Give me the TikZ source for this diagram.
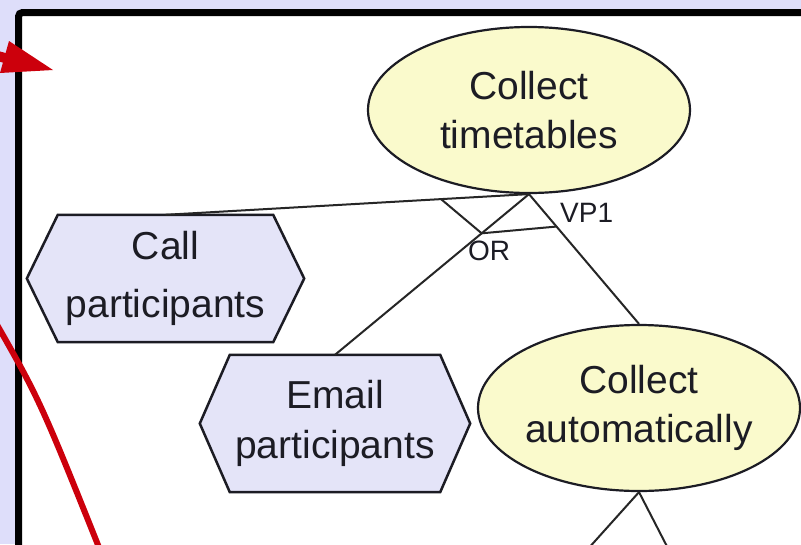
\documentclass[tikz,border=0pt]{standalone}
\usepackage{fontspec}
\setmainfont{Liberation Sans}
\usetikzlibrary{shapes.geometric}
\definecolor{pagebg}{RGB}{222,222,250}
\definecolor{goalfill}{RGB}{250,250,204}
\definecolor{taskfill}{RGB}{228,228,248}
\definecolor{inkdark}{RGB}{28,28,36}
\definecolor{markred}{RGB}{204,0,12}
\pgfdeclarelayer{back}
\pgfdeclarelayer{shapes}
\pgfsetlayers{back,shapes,main}
\begin{document}
\begin{tikzpicture}[x=1pt,y=-1pt,
  goal/.style={ellipse, draw=inkdark, fill=goalfill, line width=2.2pt,
    minimum width=322pt, minimum height=166pt, inner sep=0pt,
    align=center, text=inkdark, font=\fontsize{39}{49}\selectfont},
  task/.style={rectangle, inner sep=0pt, align=center, text=inkdark,
    font=\fontsize{39}{50}\selectfont},
  hexline/.style={draw=inkdark, fill=taskfill, line width=2.5pt, line join=miter},
  link/.style={draw=black!85, line width=2pt},
  lbl/.style={inner sep=0pt, text=inkdark, font=\fontsize{28}{30}\selectfont},
  redmark/.style={draw=markred, line width=6pt}]
\useasboundingbox (0,0) rectangle (801,544);
\clip (0,0) rectangle (801,544);

% page background and framed canvas
\begin{pgfonlayer}{back}
  \fill[pagebg] (0,0) rectangle (801,544);
  \draw[line width=7pt, fill=white, rounded corners=4pt] (18.5,12.5) rectangle (840,590);
\end{pgfonlayer}

% goals
\node[goal] (ct) at (529,110) {Collect\\timetables};
\node[goal] (ca) at (639,408) {Collect\\automatically};

% tasks (hexagons drawn round the text boxes)
\node[task, minimum width=215pt, minimum height=127pt, font=\fontsize{39}{58}\selectfont]
  (cp) at (165.5,278.5) {Call\\participants};
\node[task, minimum width=210pt, minimum height=137pt]
  (ep) at (335,423.5) {Email\\participants};
\begin{pgfonlayer}{shapes}
  \path[hexline] (cp.north west) -- (cp.north east) -- ([xshift=31pt]cp.east)
    -- (cp.south east) -- (cp.south west) -- ([xshift=-31pt]cp.west) -- cycle;
  \path[hexline] (ep.north west) -- (ep.north east) -- ([xshift=30pt]ep.east)
    -- (ep.south east) -- (ep.south west) -- ([xshift=-30pt]ep.west) -- cycle;
\end{pgfonlayer}

% decomposition links
\draw[link] (ct.south) -- coordinate[pos=0.242] (orA) (cp.north);
\draw[link] (ct.south) -- coordinate[pos=0.244] (orB) (ep.north);
\draw[link] (ct.south) -- coordinate[pos=0.25] (orC) (ca.north);
\draw[link] (orA) -- (orB) -- (orC);
\node[lbl, anchor=base west] (vp) at (560,222) {VP1};
\node[lbl] (orl) at (489,251) {OR};

% links leaving the lower goal
\coordinate (lowL) at (578,560);
\coordinate (lowR) at (674,560);
\draw[link] (ca.south) -- (lowL);
\draw[link] (ca.south) -- (lowR);

% red pointer and red curve
\draw[markred, line width=10pt] (-40,46) -- (20,62);
\fill[markred] (53,70) -- (9,41) -- (0,73) -- cycle;
\draw[redmark] (-8,316) .. controls (40,400) .. (104,560);
\end{tikzpicture}
\end{document}
